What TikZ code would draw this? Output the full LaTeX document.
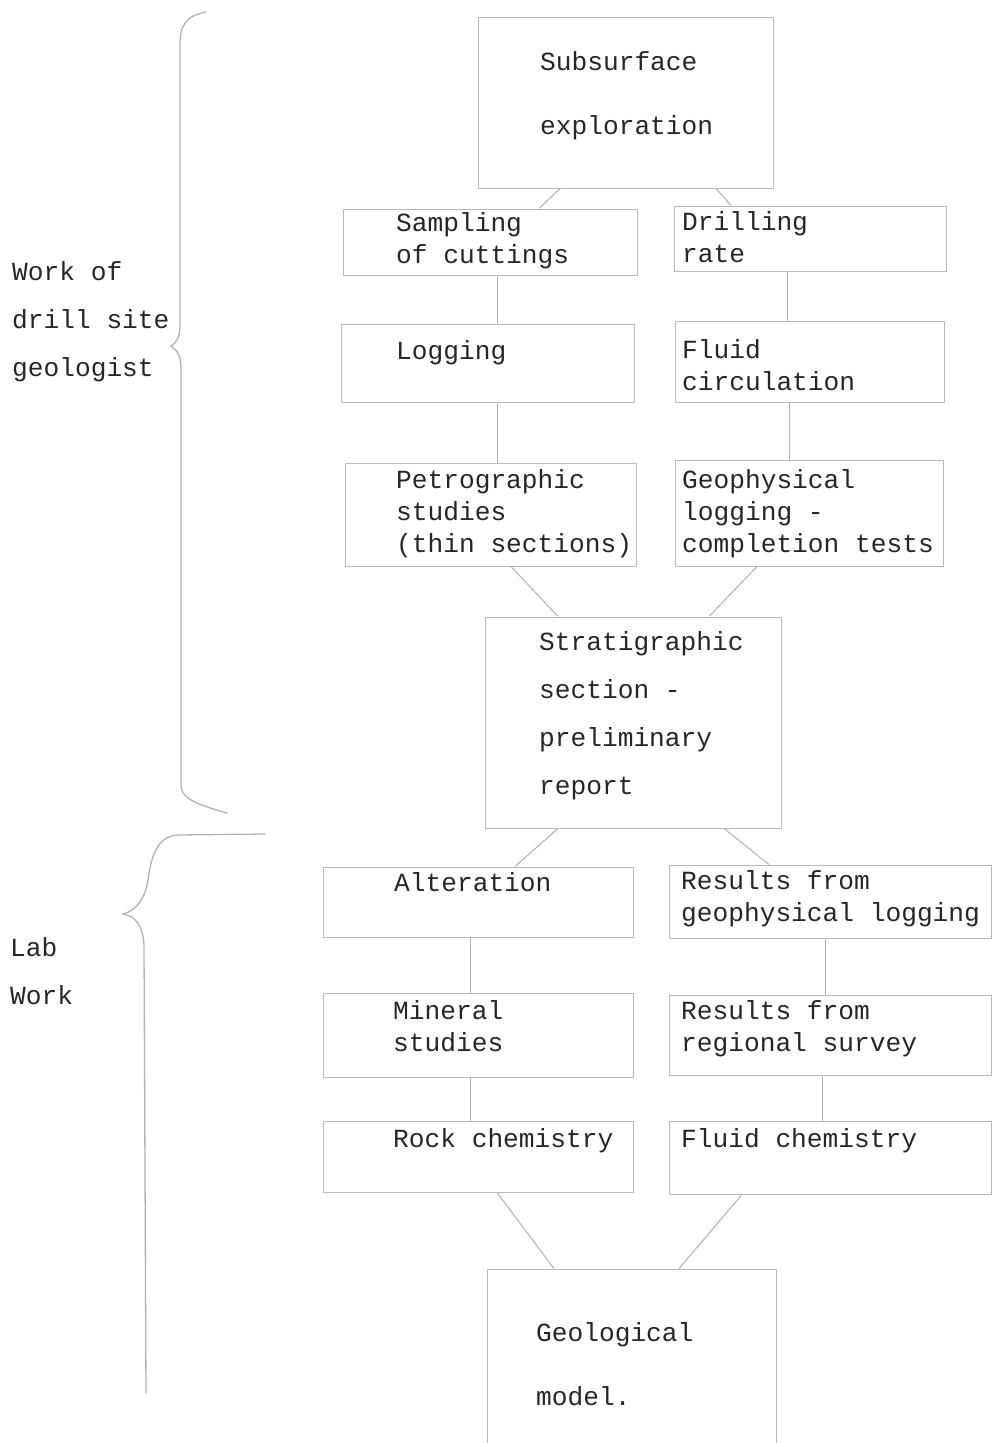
\documentclass[tikz,border=0pt]{standalone}
\usepackage{fontspec}
\setmonofont{Liberation Mono}

\begin{document}
\begin{tikzpicture}[x=1pt, y=-1pt,
    box/.style={draw=gray!55, line width=1pt, rectangle, inner sep=0pt},
    txt/.style={anchor=base west, inner sep=0pt, align=left, text=black!85,
        font=\ttfamily\fontsize{26.2}{32}\selectfont},
    link/.style={draw=gray!60, line width=1pt},
    brace/.style={draw=gray!60, line width=1.3pt, line cap=round}]
    \useasboundingbox (0,0) rectangle (993,1443);
    \clip (0,0) rectangle (993,1443);

    % Boxes
    \node[box, minimum width=295pt, minimum height=171pt] (subs) at (625.5,102.5) {};
    \node[box, minimum width=294pt, minimum height=66pt] (samp) at (490,242) {};
    \node[box, minimum width=272pt, minimum height=65pt] (drill) at (810,238.5) {};
    \node[box, minimum width=293pt, minimum height=78pt] (logg) at (487.5,363) {};
    \node[box, minimum width=269pt, minimum height=81pt] (fluid) at (809.5,361.5) {};
    \node[box, minimum width=291pt, minimum height=103pt] (petro) at (490.5,514.5) {};
    \node[box, minimum width=268pt, minimum height=106pt] (geoph) at (809,513) {};
    \node[box, minimum width=296pt, minimum height=211pt] (strat) at (633,722.5) {};
    \node[box, minimum width=310pt, minimum height=70pt] (alter) at (478,902) {};
    \node[box, minimum width=322pt, minimum height=73pt] (resgeo) at (830,901.5) {};
    \node[box, minimum width=310pt, minimum height=84pt] (miner) at (478,1035) {};
    \node[box, minimum width=322pt, minimum height=80pt] (resreg) at (830,1035) {};
    \node[box, minimum width=310pt, minimum height=71pt] (rock) at (478,1156.5) {};
    \node[box, minimum width=322pt, minimum height=73pt] (fchem) at (830,1157.5) {};
    \node[box, minimum width=289pt, minimum height=200pt] (model) at (631.5,1369) {};

    % Typed labels (placed at the baseline of their last line)
    \node[txt] (subst) at (540,134) {Subsurface\\[32pt]exploration};
    \node[txt] (sampt) at (396,263) {Sampling\\of cuttings};
    \node[txt] (drillt) at (682,262) {Drilling\\rate};
    \node[txt] (loggt) at (396,359) {Logging};
    \node[txt] (fluidt) at (682,390) {Fluid\\circulation};
    \node[txt] (petrot) at (396,552) {Petrographic\\studies\\(thin sections)};
    \node[txt] (geopht) at (682,552) {Geophysical\\logging -\\completion tests};
    \node[txt] (stratt) at (539,794) {Stratigraphic\\[16pt]section -\\[16pt]preliminary\\[16pt]report};
    \node[txt] (altert) at (394,891) {Alteration};
    \node[txt] (resgeot) at (681,921) {Results from\\geophysical logging};
    \node[txt] (minert) at (393,1051) {Mineral\\studies};
    \node[txt] (resregt) at (681,1051) {Results from\\regional survey};
    \node[txt] (rockt) at (393,1147) {Rock chemistry};
    \node[txt] (fchemt) at (681,1147) {Fluid chemistry};
    \node[txt] (modelt) at (536,1405) {Geological\\[32pt]model.};

    % Side labels
    \node[txt] (site) at (12,376) {Work of\\[16pt]drill site\\[16pt]geologist};
    \node[txt] (lab) at (10,1004) {Lab\\[16pt]Work};

    % Connectors
    \draw[link] ([xshift=-65.5pt]subs.south) -- ([xshift=49pt]samp.north);
    \draw[link] ([xshift=90.5pt]subs.south) -- ([xshift=-79pt]drill.north);
    \draw[link] ([xshift=7pt]samp.south) -- ([xshift=9.5pt]logg.north);
    \draw[link] ([xshift=-23pt]drill.south) -- ([xshift=-22.5pt]fluid.north);
    \draw[link] ([xshift=9.5pt]logg.south) -- ([xshift=6.5pt]petro.north);
    \draw[link] ([xshift=-20.5pt]fluid.south) -- ([xshift=-20pt]geoph.north);
    \draw[link] ([xshift=20.5pt]petro.south) -- ([xshift=-75pt]strat.north);
    \draw[link] ([xshift=-52pt]geoph.south) -- ([xshift=76pt]strat.north);
    \draw[link] ([xshift=-75pt]strat.south) -- ([xshift=37pt]alter.north);
    \draw[link] ([xshift=91pt]strat.south) -- ([xshift=-61pt]resgeo.north);
    \draw[link] ([xshift=-8pt]alter.south) -- ([xshift=-8pt]miner.north);
    \draw[link] ([xshift=-5pt]resgeo.south) -- ([xshift=-5pt]resreg.north);
    \draw[link] ([xshift=-8pt]miner.south) -- ([xshift=-8pt]rock.north);
    \draw[link] ([xshift=-8pt]resreg.south) -- ([xshift=-8pt]fchem.north);
    \draw[link] ([xshift=19pt]rock.south) -- ([xshift=-77.5pt]model.north);
    \draw[link] ([xshift=-88pt]fchem.south) -- ([xshift=47.5pt]model.north);

    % Braces
    \draw[brace] (206,12) .. controls (186,16) and (180,25) .. (180,45) -- (180,325)
        .. controls (180,338) and (176,343) .. (171,346)
        .. controls (177,350) and (181,356) .. (181,368) -- (181,785)
        .. controls (181,798) and (195,804) .. (227,813);
    \draw[brace] (265,834) -- (178,835) .. controls (160,836) and (152,850) .. (148,880)
        .. controls (145,900) and (135,911) .. (123,914)
        .. controls (135,916) and (143,925) .. (144,945) -- (146,1393);
\end{tikzpicture}
\end{document}
